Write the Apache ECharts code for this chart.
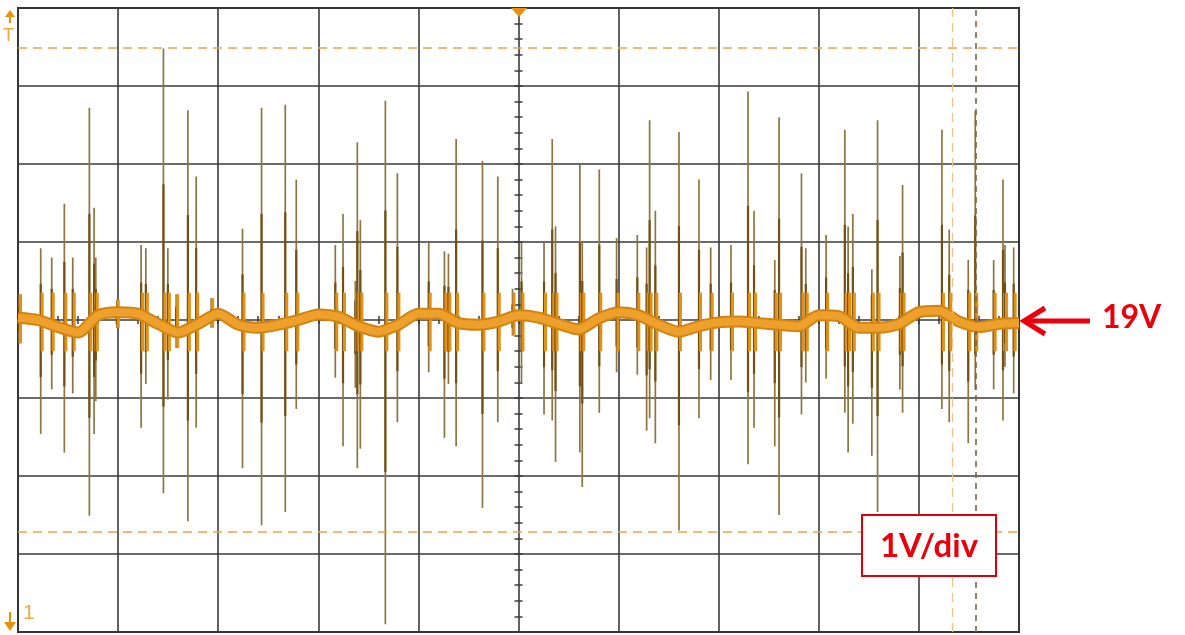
<!DOCTYPE html>
<html>
<head>
<meta charset="utf-8">
<script src="https://cdn.jsdelivr.net/npm/echarts@6/dist/echarts.min.js"></script>
<style>
  html, body { margin: 0; padding: 0; background: #fff; }
  #scope { width: 1185px; height: 635px; }
</style>
</head>
<body>
<div id="scope"></div>
<script>
// time in divisions (10 div across), voltage in volts (1 V/div, centre 19 V)
const spikeT = [0.01, 0.227, 0.337, 0.463, 0.547, 0.713, 0.76, 0.777, 0.987, 1.23,
  1.277, 1.453, 1.497, 1.58, 1.697, 1.78, 1.93, 2.243, 2.433, 2.67,
  2.78, 3.17, 3.247, 3.37, 3.39, 3.42, 3.67, 3.79, 4.103, 4.26,
  4.30, 4.377, 4.64, 4.793, 4.94, 5.03, 5.255, 5.337, 5.37, 5.613,
  5.637, 5.807, 5.98, 6.187, 6.28, 6.31, 6.367, 6.603, 6.803, 6.92,
  7.123, 7.293, 7.353, 7.56, 7.603, 7.827, 7.87, 8.073, 8.26, 8.293,
  8.34, 8.53, 8.587, 8.81, 8.837, 9.23, 9.303, 9.493, 9.563, 9.747,
  9.84, 9.86, 9.947]
const spikeHigh = [19.33, 19.92, 19.80, 20.49, 19.80, 21.72, 20.44, 19.80, 19.26, 19.96,
  19.92, 22.48, 19.92, 19.33, 21.69, 20.84, 19.28, 20.17, 21.72, 21.76,
  20.80, 19.96, 20.36, 19.50, 21.28, 20.28, 21.81, 20.88, 19.99, 19.88,
  19.85, 21.32, 21.04, 20.84, 19.40, 19.99, 19.99, 21.32, 20.20, 20.99,
  20.00, 20.93, 20.05, 20.09, 19.93, 21.56, 20.40, 21.41, 20.80, 19.93,
  19.96, 21.93, 20.40, 19.77, 21.60, 20.88, 19.92, 20.09, 21.44, 20.20,
  20.36, 19.65, 21.56, 19.82, 20.73, 21.44, 20.16, 19.77, 21.68, 19.77,
  20.80, 19.96, 19.93]
const spikeLow = [18.70, 17.54, 18.11, 17.30, 18.06, 16.49, 17.54, 17.96, 18.90, 17.62,
  18.18, 16.78, 17.98, 18.64, 16.42, 17.62, 18.90, 17.10, 16.37, 16.54,
  17.86, 18.26, 17.38, 18.13, 17.10, 17.35, 15.10, 17.69, 18.33, 17.49,
  18.18, 17.38, 16.59, 17.69, 18.80, 18.20, 17.79, 17.71, 17.18, 17.30,
  16.86, 17.81, 18.33, 18.30, 17.58, 17.74, 17.42, 16.30, 17.74, 18.23,
  18.23, 17.15, 17.62, 17.38, 16.50, 17.79, 18.20, 18.25, 17.81, 17.30,
  17.67, 17.26, 16.54, 18.11, 17.81, 17.86, 17.69, 17.42, 18.11, 18.11,
  17.71, 18.40, 18.06]
const bandT = [0, 0.2, 0.4, 0.6, 0.8, 1.0, 1.2, 1.4, 1.6, 1.8,
  2.0, 2.2, 2.4, 2.6, 2.8, 3.0, 3.2, 3.4, 3.6, 3.8,
  4.0, 4.2, 4.4, 4.6, 4.8, 5.0, 5.2, 5.4, 5.6, 5.8,
  6.0, 6.2, 6.4, 6.6, 6.8, 7.0, 7.2, 7.4, 7.6, 7.8,
  8.0, 8.2, 8.4, 8.6, 8.8, 9.0, 9.2, 9.4, 9.6, 9.8, 10.0]
const bandV = [19.03, 19.00, 18.91, 18.84, 19.06, 19.10, 19.08, 18.95, 18.84, 18.95,
  19.08, 18.94, 18.90, 18.94, 19.00, 19.07, 19.04, 18.92, 18.85, 18.94,
  19.08, 19.08, 18.96, 18.94, 18.98, 19.06, 19.03, 18.95, 18.88, 19.02,
  19.10, 19.06, 18.94, 18.85, 18.92, 18.97, 18.98, 18.96, 18.94, 18.92,
  19.06, 19.05, 18.90, 18.90, 18.95, 19.10, 19.12, 18.98, 18.91, 18.95, 18.96]
const cursorV = [22.49, 16.28]
const cursorT = [9.327, 9.57]

const gridColor = '#3a3a3a'
const orange = '#e8900f'

const chart = echarts.init(document.getElementById('scope'), null, { renderer: 'canvas' })

function centreX(inside) {
  return {
    type: 'value', min: 0, max: 10, interval: 1,
    position: 'bottom', offset: -312,
    axisLine: { show: false },
    axisTick: { show: true, inside: inside, length: 4, lineStyle: { color: gridColor, width: 1.5 } },
    minorTick: { show: true, splitNumber: 5, length: 4, lineStyle: { color: gridColor, width: 1.5 } },
    axisLabel: { show: false },
    splitLine: { show: false },
  }
}
function centreY(inside) {
  return {
    type: 'value', min: 15, max: 23, interval: 1,
    position: 'left', offset: -500.5,
    axisLine: { show: false },
    axisTick: { show: true, inside: inside, length: 4, lineStyle: { color: gridColor, width: 1.5 } },
    minorTick: { show: true, splitNumber: 5, length: 4, lineStyle: { color: gridColor, width: 1.5 } },
    axisLabel: { show: false },
    splitLine: { show: false },
  }
}

const spikeData = spikeT.map((t, i) => [t, spikeHigh[i], spikeLow[i]])
const traceData = bandT.map((t, i) => [t, bandV[i]])

const options = {
  backgroundColor: '#fff',
  animation: false,
  grid: {
    left: 18, top: 8, width: 1001, height: 624,
    show: true, borderColor: '#2a2a2a', borderWidth: 2, backgroundColor: '#fff',
  },
  xAxis: [
    {
      type: 'value', min: 0, max: 10, interval: 1,
      axisLine: { show: false }, axisTick: { show: false }, axisLabel: { show: false },
      splitLine: { show: true, lineStyle: { color: gridColor, width: 1.6 } },
    },
    centreX(true),
    centreX(false),
  ],
  yAxis: [
    {
      type: 'value', min: 15, max: 23, interval: 1,
      axisLine: { show: false }, axisTick: { show: false }, axisLabel: { show: false },
      splitLine: { show: true, lineStyle: { color: gridColor, width: 1.6 } },
    },
    centreY(true),
    centreY(false),
  ],
  series: [
    {
      name: 'spikes',
      type: 'custom',
      z: 3,
      data: spikeData,
      renderItem: function (params, api) {
        const t = api.value(0)
        const hi = api.value(1)
        const lo = api.value(2)
        const top = api.coord([t, hi])
        const bot = api.coord([t, lo])
        const midHi = api.coord([t, 19 + (hi - 19) * 0.5])
        const midLo = api.coord([t, 19 + (lo - 19) * 0.5])
        const glowHi = api.coord([t, Math.min(hi, 19.35)])
        const glowLo = api.coord([t, Math.max(lo, 18.6)])
        return {
          type: 'group',
          children: [
            { type: 'line', shape: { x1: top[0], y1: top[1], x2: bot[0], y2: bot[1] },
              style: { stroke: '#8f7440', lineWidth: 1.7 } },
            { type: 'line', shape: { x1: midHi[0], y1: midHi[1], x2: midLo[0], y2: midLo[1] },
              style: { stroke: '#724f12', lineWidth: 2.2 } },
            { type: 'line', shape: { x1: glowHi[0] + 1.5, y1: glowHi[1], x2: glowLo[0] + 1.5, y2: glowLo[1] },
              style: { stroke: '#e39016', lineWidth: 3 } },
          ],
        }
      },
    },
    {
      name: 'trace',
      type: 'line',
      z: 4,
      data: traceData,
      smooth: 0.25,
      showSymbol: false,
      lineStyle: { color: '#cf8416', width: 12 },
    },
    {
      name: 'traceCore',
      type: 'line',
      z: 5,
      data: traceData,
      smooth: 0.25,
      showSymbol: false,
      lineStyle: { color: '#efa02a', width: 8 },
      markLine: {
        silent: true,
        symbol: 'none',
        label: { show: false },
        data: [
          { yAxis: cursorV[0], lineStyle: { color: '#e9a250', width: 1.6, type: [9, 6] } },
          { yAxis: cursorV[1], lineStyle: { color: '#e9a250', width: 1.6, type: [9, 6] } },
          { xAxis: cursorT[0], lineStyle: { color: '#efc48a', width: 1.3, type: [9, 6] } },
          { xAxis: cursorT[1], lineStyle: { color: '#7d6440', width: 1.6, type: [6, 5] } },
        ],
      },
    },
  ],
  graphic: [
    // trigger marker at top centre
    { type: 'polygon', z: 10, shape: { points: [[511, 8], [527, 8], [519, 17]] }, style: { fill: orange } },
    // trigger level marker, top left
    { type: 'polygon', z: 10, shape: { points: [[5, 17], [10, 10], [15, 17]] }, style: { fill: orange } },
    { type: 'line', z: 10, shape: { x1: 10, y1: 14, x2: 10, y2: 23 }, style: { stroke: orange, lineWidth: 2 } },
    { type: 'text', z: 10, left: 3, top: 27, style: { text: 'T', fill: '#f0a93c', font: '18px "Liberation Sans"' } },
    // channel 1 marker, bottom left
    { type: 'line', z: 10, shape: { x1: 10, y1: 612, x2: 10, y2: 624 }, style: { stroke: orange, lineWidth: 2 } },
    { type: 'polygon', z: 10, shape: { points: [[4, 622], [16, 622], [10, 631]] }, style: { fill: orange } },
    { type: 'text', z: 10, left: 23, top: 603, style: { text: '1', fill: '#f0a93c', font: '21px "Liberation Sans"' } },
    // 19V arrow
    { type: 'line', z: 10, shape: { x1: 1028, y1: 321, x2: 1090, y2: 321 }, style: { stroke: '#e8000b', lineWidth: 5 } },
    { type: 'polyline', z: 10, shape: { points: [[1045, 308], [1024, 321], [1045, 334]] },
      style: { stroke: '#e8000b', lineWidth: 5, fill: null, lineJoin: 'miter' } },
    { type: 'text', z: 10, left: 1102, top: 302, style: { text: '19V', fill: '#e8000b', font: 'bold 32px Lato' } },
    // 1V/div box
    { type: 'rect', z: 10, shape: { x: 862, y: 515, width: 134, height: 61 },
      style: { fill: '#fff', stroke: '#d9000b', lineWidth: 2 } },
    { type: 'text', z: 11, x: 929, y: 546,
      style: { text: '1V/div', fill: '#e8000b', font: 'bold 33px Lato', align: 'center', verticalAlign: 'middle' } },
  ],
}

chart.setOption(options)
</script>
</body>
</html>
